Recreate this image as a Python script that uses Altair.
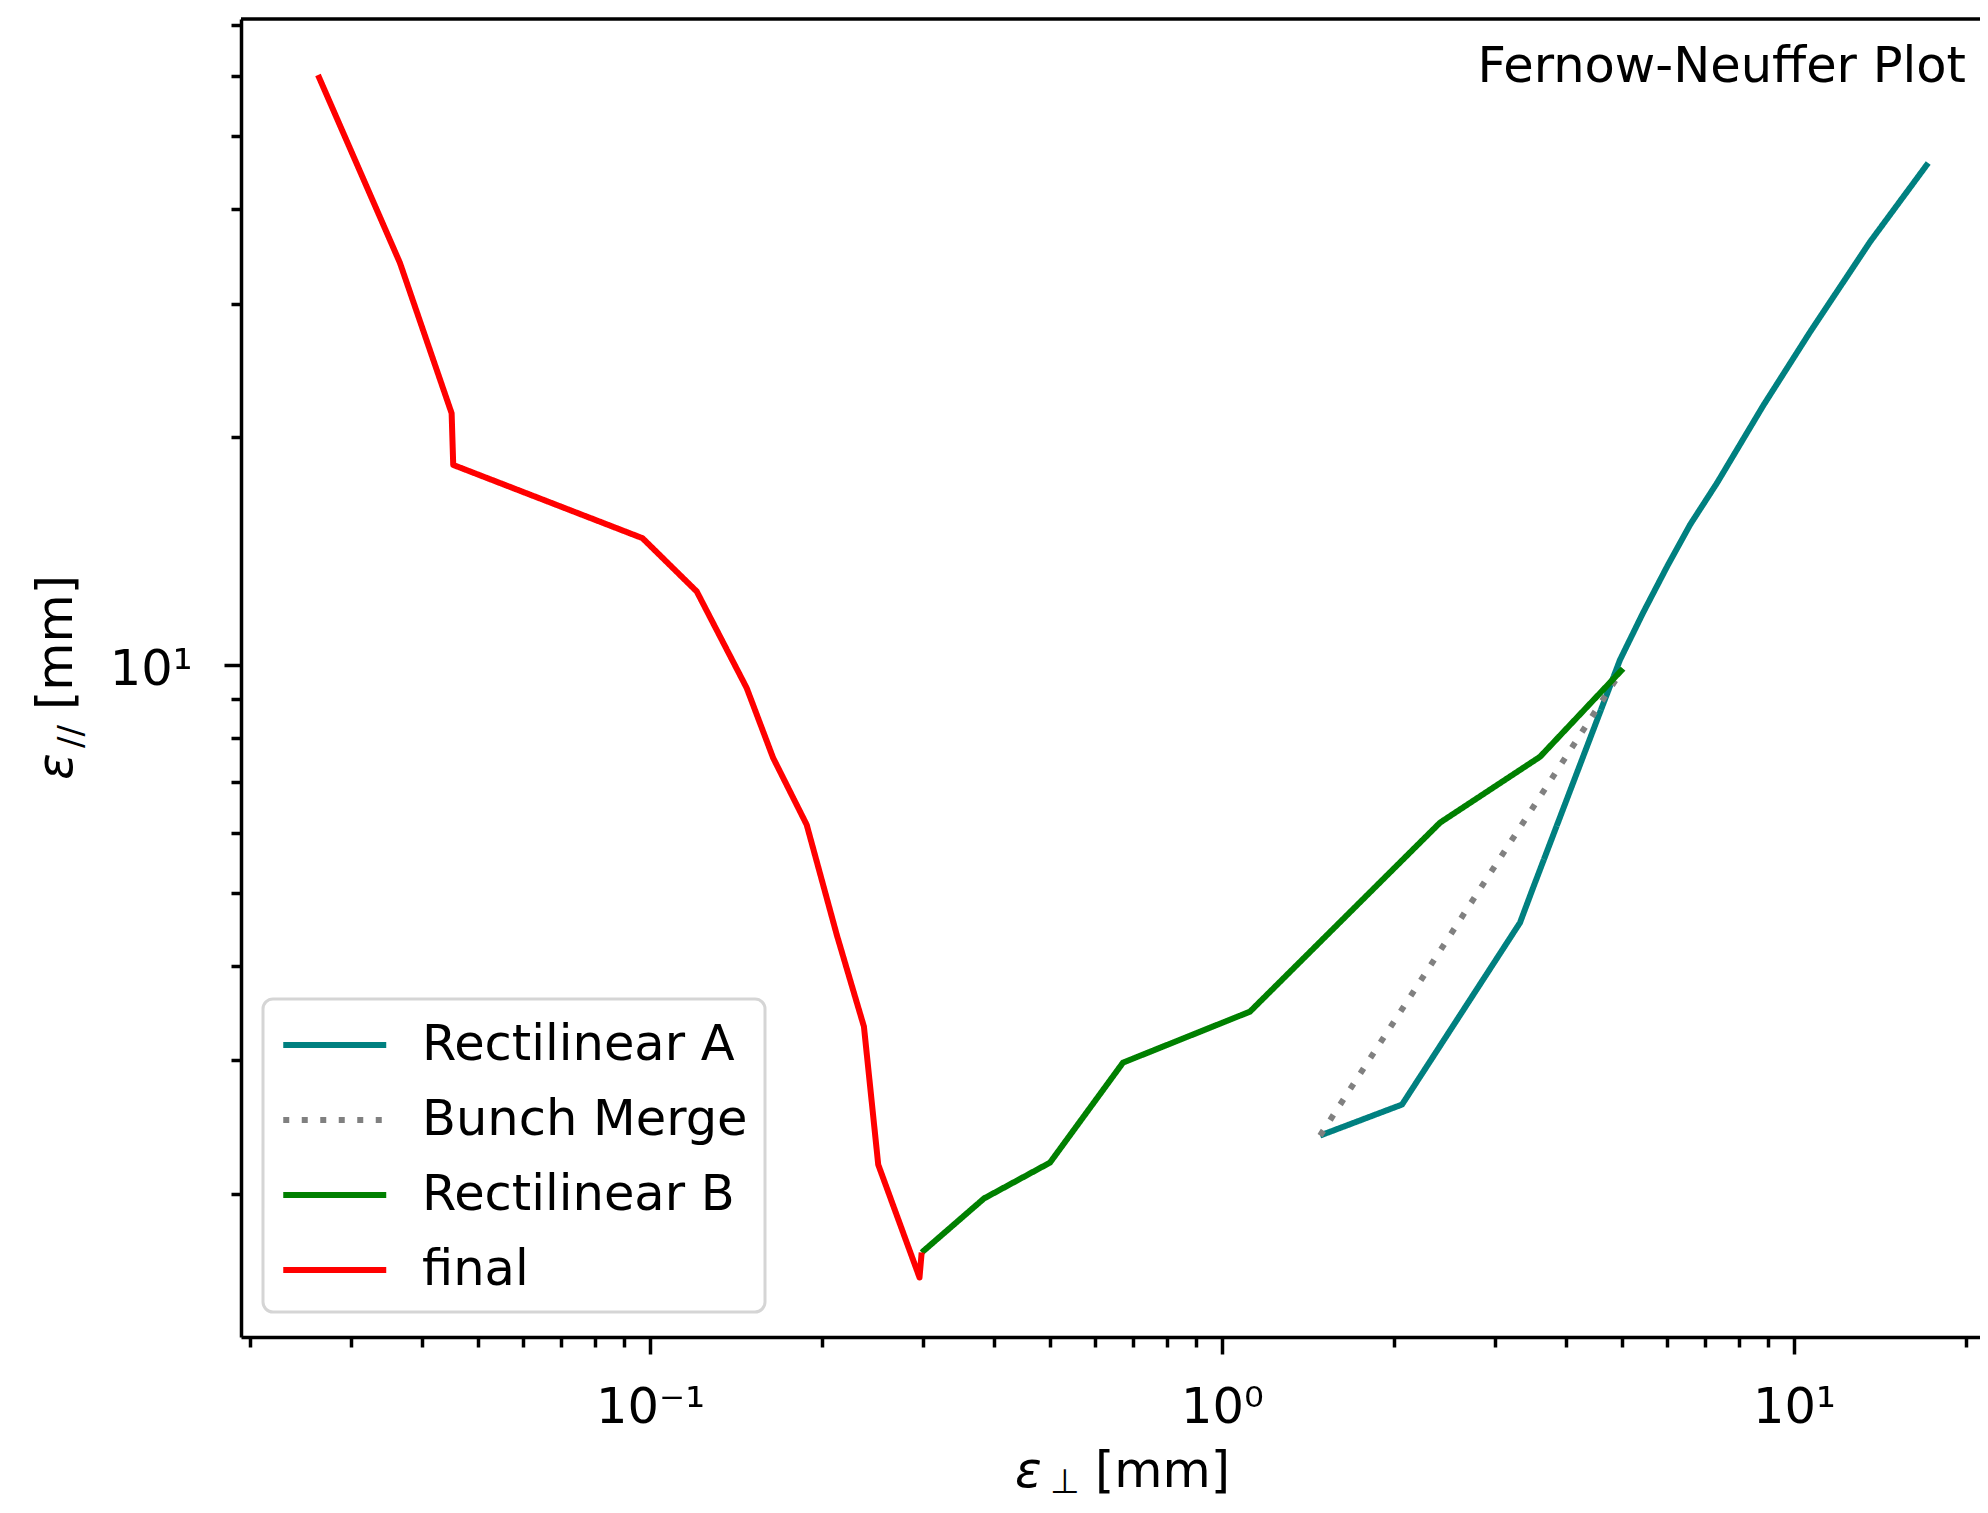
import altair as alt
import pandas as pd

# ---------------- data ----------------
series_names = ["Rectilinear A", "Bunch Merge", "Rectilinear B", "final"]
series_colors = ["#008080", "#808080", "#008000", "#ff0000"]
series_dash = [[1, 0], [6, 12.5], [1, 0], [1, 0]]

rect_a_x = [1.484, 2.064, 3.319, 3.483, 4.963, 5.445, 5.998, 6.579, 7.335, 8.829, 10.67, 13.58, 17.16]
rect_a_y = [2.387, 2.623, 4.563, 5.030, 10.15, 11.71, 13.48, 15.31, 17.39, 21.99, 27.54, 36.22, 46.04]

merge_x = [1.484, 5.023]
merge_y = [2.387, 9.88]

rect_b_x = [5.023, 3.597, 2.405, 1.119, 0.6713, 0.5003, 0.3836, 0.2985]
rect_b_y = [9.88, 7.558, 6.185, 3.480, 2.980, 2.198, 1.971, 1.672]

final_x = [0.2985, 0.2959, 0.2506, 0.2366, 0.2123, 0.1879, 0.1641, 0.1476,
           0.1207, 0.09703, 0.04529, 0.04500, 0.03655, 0.02628]
final_y = [1.672, 1.550, 2.185, 3.325, 4.385, 6.146, 7.537, 9.316,
           12.50, 14.70, 18.37, 21.50, 33.97, 60.17]

x_domain = [0.019275, 21.14]
y_domain = [1.293, 71.36]

x_ticks = [0.02, 0.03, 0.04, 0.05, 0.06, 0.07, 0.08, 0.09, 0.1,
           0.2, 0.3, 0.4, 0.5, 0.6, 0.7, 0.8, 0.9, 1,
           2, 3, 4, 5, 6, 7, 8, 9, 10, 20]
y_ticks = [2, 3, 4, 5, 6, 7, 8, 9, 10, 20, 30, 40, 50, 60, 70]

plot_title = "Fernow-Neuffer Plot"

# ---------------- table ----------------
rows = []
for name, xs, ys in [("Rectilinear A", rect_a_x, rect_a_y),
                     ("Bunch Merge", merge_x, merge_y),
                     ("Rectilinear B", rect_b_x, rect_b_y),
                     ("final", final_x, final_y)]:
    for i, (xv, yv) in enumerate(zip(xs, ys)):
        rows.append({"series": name, "i": i, "x": xv, "y": yv})
df = pd.DataFrame(rows)

W, H = 1739, 1318
FONT = "DejaVu Sans"
FS = 49.5

major_x = "datum.value == 0.1 || datum.value == 1 || datum.value == 10"
x_axis = alt.Axis(
    values=x_ticks, title=None, grid=False,
    labelExpr="datum.value == 0.1 ? '10⁻¹' : datum.value == 1 ? '10⁰' : datum.value == 10 ? '10¹' : ''",
    tickSize={"condition": {"test": major_x, "value": 17}, "value": 10},
    tickColor="black", tickWidth=3.5, domainColor="black", domainWidth=3.5,
    labelFont=FONT, labelFontSize=FS, labelColor="black", labelPadding=29,
    labelFlush=False, labelOverlap=False, labelBound=False,
)
y_axis = alt.Axis(
    values=y_ticks, title=None, grid=False,
    labelExpr="datum.value == 10 ? '10¹' : ''",
    tickSize={"condition": {"test": "datum.value == 10", "value": 17}, "value": 10},
    tickColor="black", tickWidth=3.5, domainColor="black", domainWidth=3.5,
    labelFont=FONT, labelFontSize=FS, labelColor="black", labelPadding=32,
    labelOffset=5,
    labelFlush=False, labelOverlap=False, labelBound=False,
)

legend = alt.Legend(
    title=None, orient="none", legendX=22, legendY=980,
    symbolType="M-1,0L3,0", symbolSize=2652, symbolStrokeWidth=6,
    labelFont=FONT, labelFontSize=FS, labelColor="black", labelOffset=84,
    labelLimit=0,
    rowPadding=21, padding=17, fillColor="white", strokeColor="#d5d5d5",
    cornerRadius=10,
)

x_enc = alt.X("x:Q", scale=alt.Scale(type="log", domain=x_domain, nice=False), axis=x_axis)
y_enc = alt.Y("y:Q", scale=alt.Scale(type="log", domain=y_domain, nice=False), axis=y_axis)
color_enc = alt.Color("series:N", scale=alt.Scale(domain=series_names, range=series_colors), legend=legend)
dash_enc = alt.StrokeDash("series:N", scale=alt.Scale(domain=series_names, range=series_dash), legend=legend)

layers = []
for name in series_names:
    layers.append(
        alt.Chart(df).transform_filter(alt.datum.series == name)
        .mark_line(strokeWidth=6, strokeJoin="round")
        .encode(x=x_enc, y=y_enc, order="i:Q", color=color_enc, strokeDash=dash_enc)
    )

top_spine = alt.Chart(pd.DataFrame({"a": [0]})).mark_rule(color="black", strokeWidth=3.5).encode(
    x=alt.value(0), x2=alt.value(W), y=alt.value(0))

def txt(s, x, y, size=FS, angle=0, style="normal", align="left"):
    return alt.Chart(pd.DataFrame({"t": [s]})).mark_text(
        font=FONT, fontSize=size, fontStyle=style, color="black", align=align,
        baseline="alphabetic", angle=angle,
    ).encode(text="t:N", x=alt.value(x), y=alt.value(y))

texts = [
    txt(plot_title, 1725, 63, align="right"),
    # x-axis title: ε⊥ [mm]
    txt("ε", 774, 1468, style="italic"),
    txt("⊥", 809, 1474, size=34),
    txt("[mm]", 854, 1468),
    # y-axis title: ε// [mm]
    txt("ε", -169, 761, angle=270, style="italic"),
    txt("//", -159, 729, size=34, angle=270),
    txt("[mm]", -169, 691, angle=270),
]

chart = alt.layer(*layers, top_spine, *texts).properties(
    width=W, height=H,
    padding={"left": 233, "top": 11, "right": 0, "bottom": 166},
    autosize=alt.AutoSizeParams(type="none"),
    background="white",
).configure_view(stroke=None).configure_legend(strokeWidth=3)

chart.save("out.html", embed_options={"renderer": "svg", "actions": False})
